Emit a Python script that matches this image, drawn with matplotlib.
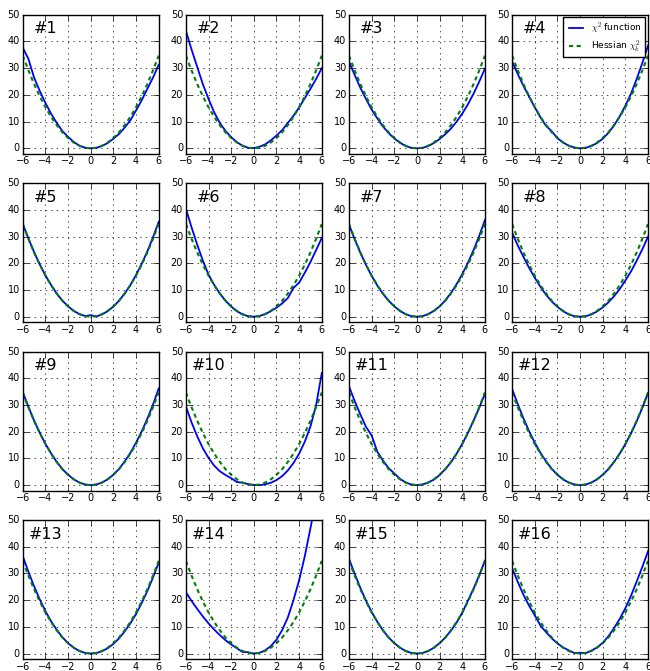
import numpy as np
import matplotlib
matplotlib.use("Agg")
import matplotlib.pyplot as plt

# ---------------------------------------------------------------------------
# x grid shared by every panel (step 0.5 from -6 to 6)
X = [-6.0, -5.5, -5.0, -4.5, -4.0, -3.5, -3.0, -2.5, -2.0, -1.5, -1.0, -0.5, 0.0,
     0.5, 1.0, 1.5, 2.0, 2.5, 3.0, 3.5, 4.0, 4.5, 5.0, 5.5, 6.0]

# Hessian approximation (green dashed), same in all panels
HESSIAN = [34.7, 29.2, 24.1, 19.5, 15.4, 11.8, 8.7, 6.0, 3.9, 2.2, 0.97, 0.24, 0.0,
           0.24, 0.97, 2.2, 3.9, 6.0, 8.7, 11.8, 15.4, 19.5, 24.1, 29.2, 34.7]

# chi^2 function (blue solid), one list per panel
CHI2_01 = [37.7, 33.5, 26.5, 21.5, 17.0, 13.0, 9.5, 6.5, 4.3, 2.4, 1.0, 0.25, 0.0,
           0.2, 0.9, 2.0, 3.6, 5.4, 7.8, 10.5, 14.2, 18.0, 22.3, 26.5, 31.3]
CHI2_02 = [44.0, 37.0, 30.5, 24.0, 18.5, 13.5, 9.5, 6.5, 4.2, 2.3, 1.0, 0.2, 0.1,
           0.6, 1.5, 3.0, 4.8, 6.8, 9.5, 12.2, 15.3, 18.8, 22.3, 26.0, 30.0]
CHI2_03 = [32.5, 27.5, 22.7, 18.5, 14.5, 11.2, 8.2, 5.7, 3.7, 2.1, 0.9, 0.2, 0.0,
           0.2, 0.9, 2.0, 3.5, 5.3, 7.4, 10.0, 13.0, 16.5, 20.5, 25.0, 29.8]
CHI2_04 = [32.5, 27.8, 23.4, 19.3, 15.4, 11.6, 8.4, 6.4, 3.8, 2.2, 1.0, 0.3, 0.0,
           0.2, 0.9, 2.0, 3.6, 5.8, 8.6, 12.0, 16.0, 20.5, 26.0, 32.0, 38.5]
CHI2_05 = [34.8, 29.3, 24.2, 19.6, 15.5, 11.9, 8.7, 6.0, 3.9, 2.2, 1.0, 0.3, 0.6,
           0.1, 0.9, 2.1, 3.8, 6.0, 8.7, 11.9, 15.6, 19.8, 24.5, 29.8, 35.5]
CHI2_06 = [40.5, 33.5, 27.0, 21.0, 15.8, 11.9, 8.7, 6.0, 3.8, 2.1, 0.9, 0.2, 0.0,
           0.3, 1.0, 2.1, 3.4, 5.0, 7.0, 10.8, 12.8, 16.5, 20.5, 25.0, 29.5]
CHI2_07 = [34.5, 29.0, 24.0, 19.4, 15.3, 11.7, 8.6, 6.0, 3.9, 2.2, 0.97, 0.24, 0.0,
           0.24, 1.0, 2.2, 3.9, 6.1, 8.9, 12.2, 16.0, 20.2, 25.0, 30.3, 36.2]
CHI2_08 = [31.5, 26.7, 22.4, 18.3, 14.6, 11.2, 8.2, 5.7, 3.7, 2.1, 0.9, 0.2, 0.0,
           0.2, 0.9, 2.0, 3.5, 5.4, 7.7, 10.4, 13.6, 17.0, 21.0, 25.3, 30.0]
CHI2_09 = [34.8, 29.3, 24.2, 19.6, 15.5, 11.9, 8.7, 6.0, 3.9, 2.2, 0.97, 0.24, 0.0,
           0.24, 1.0, 2.2, 3.9, 6.1, 8.9, 12.1, 15.9, 20.1, 24.9, 30.2, 36.2]
CHI2_10 = [29.5, 23.5, 18.3, 13.8, 10.2, 7.3, 5.2, 3.8, 2.6, 1.2, 0.9, 0.4, 0.1,
           0.0, 0.3, 0.9, 1.9, 3.4, 5.5, 8.3, 11.8, 16.3, 22.0, 30.0, 42.0]
CHI2_11 = [37.0, 31.5, 26.5, 21.8, 18.6, 12.5, 9.2, 6.4, 4.4, 2.4, 1.0, 0.25, 0.0,
           0.25, 1.0, 2.1, 3.8, 6.0, 8.6, 11.8, 15.5, 19.6, 24.2, 29.0, 34.2]
CHI2_12 = [36.0, 30.3, 25.0, 20.2, 15.9, 12.1, 8.9, 6.1, 3.9, 2.2, 0.97, 0.24, 0.0,
           0.24, 0.97, 2.2, 3.9, 6.0, 8.7, 11.8, 15.4, 19.4, 24.0, 29.0, 34.5]
CHI2_13 = [36.5, 30.6, 25.2, 20.3, 15.9, 12.1, 8.9, 6.1, 3.9, 2.2, 0.97, 0.24, 0.0,
           0.2, 0.9, 2.0, 3.6, 5.7, 8.3, 11.3, 14.8, 18.9, 23.4, 28.5, 34.0]
CHI2_14 = [23.0, 19.7, 16.7, 13.9, 11.3, 9.0, 6.9, 5.0, 3.4, 2.0, 0.6, 0.5, 0.0,
           0.3, 1.2, 2.8, 5.2, 8.8, 13.5, 20.0, 27.5, 36.5, 47.0, 58.0, 70.0]
CHI2_15 = [35.5, 29.9, 24.6, 19.8, 15.6, 11.9, 8.7, 6.0, 3.9, 2.2, 0.97, 0.24, 0.0,
           0.24, 0.97, 2.2, 3.9, 6.0, 8.6, 11.6, 15.3, 19.8, 24.3, 29.3, 34.8]
CHI2_16 = [32.0, 26.8, 22.0, 17.9, 14.3, 10.5, 8.0, 5.7, 3.8, 2.3, 1.2, 0.2, 0.3,
           0.2, 1.1, 2.3, 4.0, 6.5, 9.5, 13.0, 17.0, 21.7, 27.0, 32.5, 38.3]

CHI2 = [CHI2_01, CHI2_02, CHI2_03, CHI2_04, CHI2_05, CHI2_06, CHI2_07, CHI2_08,
        CHI2_09, CHI2_10, CHI2_11, CHI2_12, CHI2_13, CHI2_14, CHI2_15, CHI2_16]
LABELS = [f"#{i}" for i in range(1, 17)]
# ---------------------------------------------------------------------------

plt.style.use("classic")
plt.rcParams["figure.facecolor"] = "white"
plt.rcParams["savefig.facecolor"] = "white"

fig, axes = plt.subplots(4, 4, figsize=(6.5, 6.71), dpi=100)
fig.subplots_adjust(left=0.035, right=0.997, bottom=0.018, top=0.978,
                    wspace=0.2, hspace=0.212)

for i, ax in enumerate(axes.flatten()):
    ax.plot(X, CHI2[i], "b-", lw=1.3, label=r"$\chi^2$ function")
    ax.plot(X, HESSIAN, "g--", lw=1.5, dashes=(3, 2.5), label=r"Hessian $\chi^2_k$")
    ax.set_xlim(-6, 6)
    ax.set_ylim(-2, 50)
    ax.set_xticks([-6, -4, -2, 0, 2, 4, 6])
    ax.set_yticks([0, 10, 20, 30, 40, 50])
    ax.tick_params(labelsize=7, pad=2)
    ax.grid(True)
    ax.text(-4, 43, LABELS[i], ha="center", va="baseline", fontsize=11.5)
    if i == 3:
        ax.legend(loc="upper right", fontsize=6.5, handlelength=2.2,
                  borderaxespad=0.3, labelspacing=0.25, borderpad=0.35,
                  handletextpad=0.6)

fig.savefig("out.png", dpi=100)
